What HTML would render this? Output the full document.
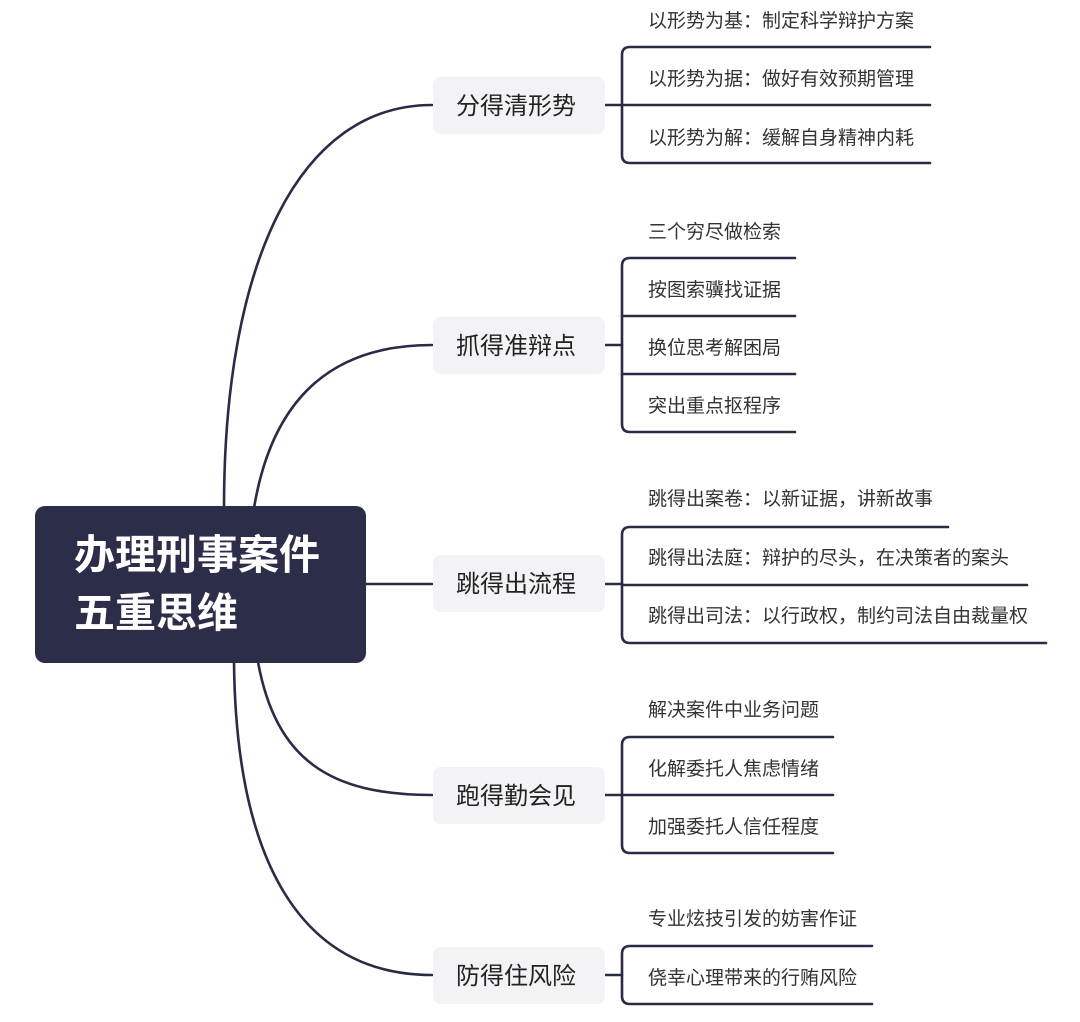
<!DOCTYPE html>
<html><head><meta charset="utf-8"><style>
html,body{margin:0;padding:0;background:#fff;}
svg text{font-family:"Liberation Sans","Noto Sans CJK SC",sans-serif;}
</style></head><body>
<svg width="1080" height="1017" viewBox="0 0 1080 1017" xmlns="http://www.w3.org/2000/svg">
<g fill="none" stroke="#2a2b45" stroke-width="2.6" stroke-linecap="round">
<path d="M224 508 C224 260 300 105 432 105"/>
<path d="M254 508 C272 400 330 345 432 345"/>
<path d="M366 584 L432 584"/>
<path d="M258 662 C276 760 330 795 432 795"/>
<path d="M234 662 C236 860 300 975 432 975"/>
<path d="M605 105 L622 105"/>
<path d="M930 47 L630 47 Q622 47 622 55 L622 155 Q622 163 630 163 L930 163"/>
<path d="M622 105 L930 105"/>
<path d="M605 345 L622 345"/>
<path d="M795 258 L630 258 Q622 258 622 266 L622 424 Q622 432 630 432 L795 432"/>
<path d="M622 316 L795 316"/>
<path d="M622 374 L795 374"/>
<path d="M605 584 L622 584"/>
<path d="M948 527 L630 527 Q622 527 622 535 L622 635 Q622 643 630 643 L1046 643"/>
<path d="M622 585 L1027 585"/>
<path d="M605 795 L622 795"/>
<path d="M833 737 L630 737 Q622 737 622 745 L622 845 Q622 853 630 853 L833 853"/>
<path d="M622 795 L833 795"/>
<path d="M605 975 L622 975"/>
<path d="M872 946 L630 946 Q622 946 622 954 L622 996 Q622 1004 630 1004 L872 1004"/>
</g>
<rect x="35" y="506" width="331" height="157" rx="10" fill="#2c2d48"/>
<text x="74" y="569" fill="#fff" font-size="41" font-weight="bold">办理刑事案件</text>
<text x="74" y="627" fill="#fff" font-size="41" font-weight="bold">五重思维</text>
<g fill="#f3f3f5">
<rect x="433" y="77" width="172" height="57" rx="8"/>
<rect x="433" y="317" width="172" height="57" rx="8"/>
<rect x="433" y="555" width="172" height="57" rx="8"/>
<rect x="433" y="767" width="172" height="57" rx="8"/>
<rect x="433" y="947" width="172" height="57" rx="8"/>
</g>
<g fill="#222" font-size="24">
<text x="456" y="114">分得清形势</text>
<text x="456" y="354">抓得准辩点</text>
<text x="456" y="592">跳得出流程</text>
<text x="456" y="804">跑得勤会见</text>
<text x="456" y="984">防得住风险</text>
</g>
<g fill="#333" font-size="19">
<text x="648" y="27">以形势为基：制定科学辩护方案</text>
<text x="648" y="85">以形势为据：做好有效预期管理</text>
<text x="648" y="144">以形势为解：缓解自身精神内耗</text>
<text x="648" y="238">三个穷尽做检索</text>
<text x="648" y="296">按图索骥找证据</text>
<text x="648" y="354">换位思考解困局</text>
<text x="648" y="412">突出重点抠程序</text>
<text x="648" y="505">跳得出案卷：以新证据，讲新故事</text>
<text x="648" y="564">跳得出法庭：辩护的尽头，在决策者的案头</text>
<text x="648" y="622">跳得出司法：以行政权，制约司法自由裁量权</text>
<text x="648" y="716">解决案件中业务问题</text>
<text x="648" y="775">化解委托人焦虑情绪</text>
<text x="648" y="833">加强委托人信任程度</text>
<text x="648" y="925">专业炫技引发的妨害作证</text>
<text x="648" y="984">侥幸心理带来的行贿风险</text>
</g>
</svg>
</body></html>
